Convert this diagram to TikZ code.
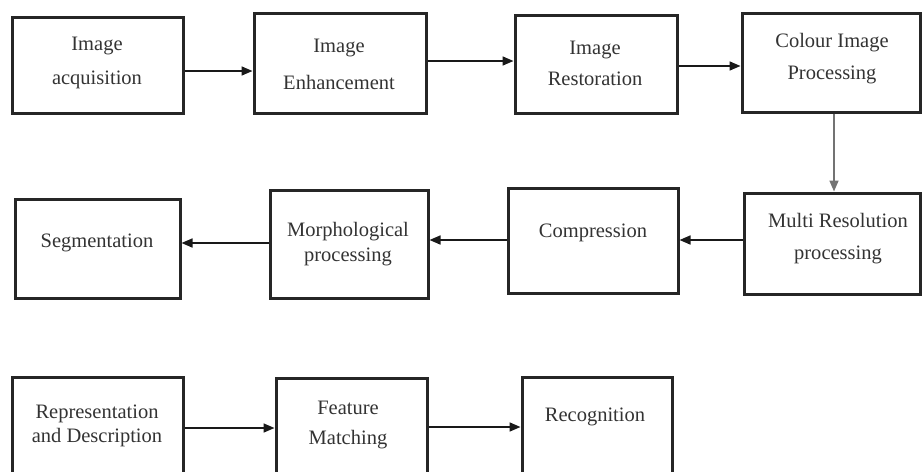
\documentclass[tikz,border=0pt]{standalone}
\usepackage{fontspec}
\setmainfont{Liberation Serif}
\usetikzlibrary{arrows.meta}
\newcommand{\fsz}[1]{\fontsize{20.5}{#1}\selectfont}
\tikzset{
  box/.style={draw=black!85, line width=3pt, inner sep=0pt},
  lbl/.style={align=center, text=black!80, inner sep=0pt},
  arr/.style={-{Triangle[length=11pt,width=9pt]}, line width=1.6pt, draw=black!90},
}
\begin{document}
\begin{tikzpicture}[x=1pt,y=-1pt]
\useasboundingbox (0,0) rectangle (923,471);
\clip (0,0) rectangle (923,471);
\fill[white] (0,0) rectangle (923,471);
% row 1
\node[box, minimum width=171pt, minimum height=96pt] (b1) at (97.5,65) {};
\node[box, minimum width=172pt, minimum height=100pt] (b2) at (340,63) {};
\node[box, minimum width=162pt, minimum height=98pt] (b3) at (596,64) {};
\node[box, minimum width=178pt, minimum height=99pt] (b4) at (831,62.5) {};
\node[lbl, font=\fsz{34}] (t1) at (97,63) {Image\\acquisition};
\node[lbl, font=\fsz{37}] (t2) at (339,64) {Image\\Enhancement};
\node[lbl, font=\fsz{31}] (t3) at (595,63) {Image\\Restoration};
\node[lbl, font=\fsz{32}] (t4) at (832,59) {Colour Image\\Processing};
% row 2
\node[box, minimum width=165pt, minimum height=99pt] (seg) at (97.5,248.5) {};
\node[box, minimum width=158pt, minimum height=108pt] (mor) at (349,244) {};
\node[box, minimum width=170pt, minimum height=105pt] (com) at (593,240.5) {};
\node[box, minimum width=176pt, minimum height=101pt] (mul) at (832,243.5) {};
\node[lbl, font=\fsz{24}] (t5) at (97,243) {Segmentation};
\node[lbl, font=\fsz{25}] (t6) at (348,244) {Morphological\\processing};
\node[lbl, font=\fsz{24}] (t7) at (593,233) {Compression};
\node[lbl, font=\fsz{32}] (t8) at (838,239) {Multi Resolution\\processing};
% row 3
\node[box, minimum width=171pt, minimum height=123pt] (rep) at (97.5,438.5) {};
\node[box, minimum width=151pt, minimum height=122pt] (fea) at (351.5,439) {};
\node[box, minimum width=150pt, minimum height=123pt] (rec) at (597,438.5) {};
\node[lbl, font=\fsz{24}] (t9) at (97,426) {Representation\\and Description};
\node[lbl, font=\fsz{30}] (t10) at (348,425) {Feature\\Matching};
\node[lbl, font=\fsz{24}] (t11) at (595,417) {Recognition};
% connectors
\draw[arr] ([yshift=-6pt]b1.east) -- ([yshift=-6pt]b1.east -| b2.west);
\draw[arr] ([yshift=2pt]b2.east) -- ([yshift=2pt]b2.east -| b3.west);
\draw[arr] ([yshift=-2pt]b3.east) -- ([yshift=-2pt]b3.east -| b4.west);
\draw[arr, draw=black!55] ([xshift=3pt]b4.south) -- ([xshift=3pt]b4.south |- mul.north);
\draw[arr] ([yshift=3.5pt]mul.west) -- ([yshift=3.5pt]mul.west -| com.east);
\draw[arr] ([yshift=0.5pt]com.west) -- ([yshift=0.5pt]com.west -| mor.east);
\draw[arr] ([yshift=1pt]mor.west) -- ([yshift=1pt]mor.west -| seg.east);
\draw[arr] ([yshift=10.5pt]rep.east) -- ([yshift=10.5pt]rep.east -| fea.west);
\draw[arr] ([yshift=12pt]fea.east) -- ([yshift=12pt]fea.east -| rec.west);
\end{tikzpicture}
\end{document}
